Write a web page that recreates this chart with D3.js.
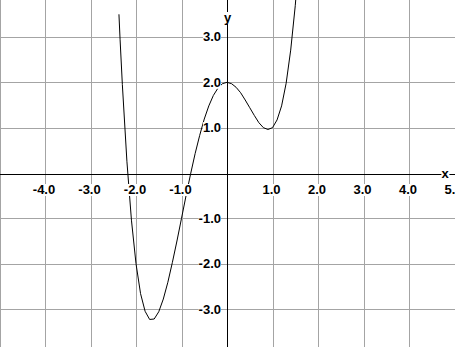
<!DOCTYPE html>
<html>
<head>
<meta charset="utf-8">
<script src="https://cdn.jsdelivr.net/npm/d3@7"></script>
<style>
  body { margin: 0; background: #fff; }
  text { font-family: "Liberation Sans", Arial, sans-serif; font-weight: bold; font-size: 13px; fill: #000; }
</style>
</head>
<body>
<svg id="chart" width="455" height="347"></svg>
<script>
// ticks / labels
var xGrid = [-5, -4, -3, -2, -1, 1, 2, 3, 4, 5];
var xTicks = [-4, -3, -2, -1, 1, 2, 3, 4, 5];
var xLabels = ["-4.0", "-3.0", "-2.0", "-1.0", "1.0", "2.0", "3.0", "4.0", "5.0"];
var yTicks = [-3, -2, -1, 1, 2, 3];
var yLabels = ["-3.0", "-2.0", "-1.0", "1.0", "2.0", "3.0"];

// points of the curve
var curveX = [-2.375, -2.35, -2.3, -2.2, -2.1, -2.0, -1.9, -1.8, -1.7, -1.6, -1.5, -1.4, -1.3, -1.2, -1.1,
  -1.0, -0.9, -0.8, -0.7, -0.6, -0.5, -0.4, -0.3, -0.2, -0.1, 0, 0.1, 0.2, 0.3, 0.4, 0.5, 0.6, 0.7,
  0.8, 0.9, 1.0, 1.1, 1.2, 1.3, 1.4, 1.5, 1.55];
var curveY = [3.50, 2.95, 1.95, 0.26, -1.04, -2.00, -2.66, -3.05, -3.23, -3.22, -3.06, -2.78, -2.41, -1.97, -1.50,
  -1.00, -0.50, -0.02, 0.43, 0.83, 1.19, 1.48, 1.71, 1.87, 1.97, 2.00, 1.97, 1.89, 1.77, 1.61, 1.44, 1.27, 1.11,
  1.00, 0.96, 1.00, 1.17, 1.48, 1.98, 2.71, 3.69, 4.29];

var svg = d3.select("#chart");
var xScale = d3.scaleLinear().domain([-5, 5]).range([-0.5, 454.5]);
var yScale = d3.scaleLinear().domain([-3.8, 3.8]).range([345.3, 0.7]);
function px(v) { return Math.round(v) + 0.5; }

svg.append("rect").attr("width", 455).attr("height", 347).attr("fill", "#fff");

// grid
svg.selectAll(".gx").data(xGrid).enter().append("line")
  .attr("x1", function(d) { return px(xScale(d)); })
  .attr("x2", function(d) { return px(xScale(d)); })
  .attr("y1", 0).attr("y2", 347)
  .attr("stroke", "#a4a4a4").attr("shape-rendering", "crispEdges");
svg.selectAll(".gy").data(yTicks).enter().append("line")
  .attr("y1", function(d) { return px(yScale(d)); })
  .attr("y2", function(d) { return px(yScale(d)); })
  .attr("x1", 0).attr("x2", 455)
  .attr("stroke", "#a4a4a4").attr("shape-rendering", "crispEdges");

// axes
svg.append("line").attr("x1", 0).attr("x2", 455)
  .attr("y1", px(yScale(0)) + 1).attr("y2", px(yScale(0)) + 1)
  .attr("stroke", "#000").attr("shape-rendering", "crispEdges");
svg.append("line").attr("y1", 0).attr("y2", 347)
  .attr("x1", px(xScale(0))).attr("x2", px(xScale(0)))
  .attr("stroke", "#000").attr("shape-rendering", "crispEdges");

// curve
svg.append("defs").append("clipPath").attr("id", "clip")
  .append("rect").attr("width", 455).attr("height", 347);
var line = d3.line()
  .x(function(d, i) { return xScale(curveX[i]); })
  .y(function(d, i) { return yScale(curveY[i]); });
svg.append("path").datum(curveX)
  .attr("d", line)
  .attr("clip-path", "url(#clip)")
  .attr("fill", "none").attr("stroke", "#000").attr("stroke-width", 1);

// labels with white box behind
function label(x, y, txt, anchor) {
  var g = svg.append("g");
  var t = g.append("text").attr("x", x).attr("y", y).attr("text-anchor", anchor).text(txt);
  var b = t.node().getBBox();
  g.insert("rect", "text").attr("x", b.x).attr("y", b.y + 2)
    .attr("width", b.width).attr("height", b.height - 3).attr("fill", "#fff");
}
xTicks.forEach(function(d, i) {
  label(xScale(d) - 1, 194, xLabels[i], "middle");
});
yTicks.forEach(function(d, i) {
  label(221, yScale(d) + 4.5, yLabels[i], "end");
});
label(445, 178, "x", "middle");
label(227.5, 22, "y", "middle");
</script>
</body>
</html>
